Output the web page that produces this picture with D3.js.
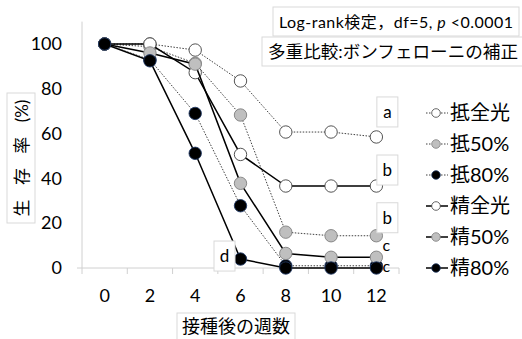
<!DOCTYPE html>
<html>
<head>
<meta charset="utf-8">
<script src="https://cdn.jsdelivr.net/npm/d3@7"></script>
<style>
  html, body { margin: 0; padding: 0; background: #fff; }
  svg { display: block; font-family: Lato, "Noto Sans CJK JP", sans-serif; }
</style>
</head>
<body>
<svg id="chart" width="522" height="339"></svg>
<script>
// Weeks after inoculation (category axis)
const weeks = ["0", "2", "4", "6", "8", "10", "12"];
const yTicks = [0, 20, 40, 60, 80, 100];

// Survival rate (%) per line
const seriesNames = ["抵全光", "抵50%", "抵80%", "精全光", "精50%", "精80%"];
const teiZenko = [100, 100, 97.3, 83.5, 60.7, 60.7, 58.5];
const tei50    = [100, 98.8, 91.4, 68.3, 16, 14.4, 14.4];
const tei80    = [100, 93, 69, 27.8, 1, 1, 1];
const seiZenko = [100, 100, 87.2, 50.7, 36.6, 36.6, 36.6];
const sei50    = [100, 96, 91, 37.8, 6.5, 4.8, 4.8];
const sei80    = [100, 92.5, 51.2, 4, 0, 0, 0];

// Significance letters, each attached to a series (index) at a week
const sigLetters = ["a", "b", "b", "c", "c", "d"];
const sigSeries  = [0, 3, 1, 4, 5, 5];
const sigWeek    = ["12", "12", "12", "12", "12", "6"];

const titleLine1 = "Log-rank検定，df=5, ";
const titleP = "p";
const titleLine1b = " <0.0001";
const titleLine2 = "多重比較:ボンフェローニの補正";
const xTitle = "接種後の週数";
const yTitleMain = "生 存 率 ";
const yTitleUnit = "(%)";

const allValues = [teiZenko, tei50, tei80, seiZenko, sei50, sei80];

const svg = d3.select("#chart");

const x = d3.scaleBand().domain(weeks).range([82, 399]).padding(0);
const xc = d => x(d) + x.bandwidth() / 2;
const y = d3.scaleLinear().domain([0, 110]).range([268, 21.6]);

// Styles per series: 抵 = dotted lines, 精 = solid lines
const markerFill   = ["#ffffff", "#bfbfbf", "#000000", "#ffffff", "#bfbfbf", "#000000"];
const markerStroke = ["#404040", "#7f7f7f", "#1f3864", "#404040", "#7f7f7f", "#1f3864"];
const dotted = [true, true, true, false, false, false];

// Axes
svg.append("line").attr("x1", 82).attr("x2", 82).attr("y1", y(110)).attr("y2", y(0))
  .attr("stroke", "#d0d0d0").attr("stroke-width", 1);
svg.append("line").attr("x1", 77).attr("x2", 399).attr("y1", y(0)).attr("y2", y(0))
  .attr("stroke", "#d0d0d0").attr("stroke-width", 1);

// Tick marks at category boundaries
const bounds = weeks.map(w => x(w)).concat([x.range()[1]]);
svg.append("g").selectAll("line").data(bounds).join("line")
  .attr("x1", d => d).attr("x2", d => d)
  .attr("y1", y(0)).attr("y2", y(0) + 6)
  .attr("stroke", "#d0d0d0");

const xAxis = svg.append("g").attr("transform", `translate(0,${y(0)})`)
  .call(d3.axisBottom(x).tickSize(0).tickPadding(21));
xAxis.select(".domain").remove();
xAxis.selectAll("text").attr("font-size", 18).attr("fill", "#000")
  .attr("font-family", "Lato, sans-serif");

const yAxis = svg.append("g").attr("transform", "translate(82,0)")
  .call(d3.axisLeft(y).tickValues(yTicks).tickSize(0).tickPadding(20));
yAxis.select(".domain").remove();
yAxis.selectAll("text").attr("font-size", 18).attr("fill", "#000")
  .attr("font-family", "Lato, sans-serif");

// Lines and markers
const line = d3.line().x((d, i) => xc(weeks[i])).y(d => y(d));
allValues.forEach((vals, s) => {
  const g = svg.append("g");
  g.append("path").datum(vals).attr("d", line)
    .attr("fill", "none")
    .attr("stroke", dotted[s] ? "#404040" : "#000")
    .attr("stroke-width", dotted[s] ? 1 : 1.5)
    .attr("stroke-dasharray", dotted[s] ? "1.5,1.5" : null);
  g.selectAll("circle").data(vals).join("circle")
    .attr("cx", (d, i) => xc(weeks[i])).attr("cy", d => y(d)).attr("r", 6.2)
    .attr("fill", markerFill[s]).attr("stroke", markerStroke[s]).attr("stroke-width", 0.9);
});

// Significance letters
function sigPos(k) {
  const s = sigSeries[k], w = sigWeek[k];
  const v = allValues[s][weeks.indexOf(w)];
  const px = xc(w), py = y(v);
  switch (k) {
    case 0: return { x: px + 11, y: py - 25, box: true };
    case 1: return { x: px + 11, y: py - 16, box: true };
    case 2: return { x: px + 11, y: py - 18, box: true };
    case 3: return { x: px + 10, y: py - 12, box: false };
    case 4: return { x: px + 10, y: py - 2, box: false };
    default: return { x: px - 16, y: py - 3, box: true };
  }
}
sigLetters.forEach((t, k) => {
  const p = sigPos(k);
  if (p.box) {
    svg.append("rect").attr("x", p.x - 10.5).attr("y", p.y - 15).attr("width", 21).attr("height", 30)
      .attr("fill", "#fff").attr("stroke", "#d9d9d9").attr("stroke-width", 1);
  }
  svg.append("text").attr("x", p.x).attr("y", p.y).attr("dy", "0.35em")
    .attr("text-anchor", "middle").attr("font-size", p.box ? 17 : 16).attr("fill", "#000")
    .attr("font-family", "Lato, sans-serif").text(t);
});

// Legend
const legend = svg.append("g");
seriesNames.forEach((name, s) => {
  const ly = 113 + s * 31;
  legend.append("line").attr("x1", 426).attr("x2", 448).attr("y1", ly).attr("y2", ly)
    .attr("stroke", dotted[s] ? "#404040" : "#000")
    .attr("stroke-width", dotted[s] ? 1 : 1.5)
    .attr("stroke-dasharray", dotted[s] ? "1.5,1.5" : null);
  legend.append("circle").attr("cx", 436).attr("cy", ly).attr("r", 4.3)
    .attr("fill", markerFill[s]).attr("stroke", markerStroke[s]).attr("stroke-width", 0.8);
  legend.append("text").attr("x", 450).attr("y", ly).attr("dy", "0.36em")
    .attr("font-size", 20).attr("fill", "#000").text(name);
});

// Test annotation boxes
svg.append("rect").attr("x", 273).attr("y", 7).attr("width", 246).attr("height", 29)
  .attr("fill", "#fff").attr("stroke", "#d9d9d9");
const t1 = svg.append("text").attr("x", 279).attr("y", 22).attr("dy", "0.35em")
  .attr("font-size", 16).attr("fill", "#000")
  .attr("textLength", 234).attr("lengthAdjust", "spacing");
t1.append("tspan").text(titleLine1);
t1.append("tspan").attr("font-style", "italic").text(titleP);
t1.append("tspan").text(titleLine1b);

svg.append("rect").attr("x", 262).attr("y", 37).attr("width", 262).attr("height", 29)
  .attr("fill", "#fff").attr("stroke", "#d9d9d9");
svg.append("text").attr("x", 268).attr("y", 52).attr("dy", "0.35em")
  .attr("font-size", 17.5).attr("fill", "#000")
  .attr("textLength", 250).attr("lengthAdjust", "spacingAndGlyphs").text(titleLine2);

// Axis titles
svg.append("rect").attr("x", 177).attr("y", 313).attr("width", 118).attr("height", 30)
  .attr("fill", "#fff").attr("stroke", "#d9d9d9");
svg.append("text").attr("x", 236).attr("y", 327).attr("dy", "0.35em")
  .attr("text-anchor", "middle").attr("font-size", 18).attr("fill", "#000").text(xTitle);

svg.append("rect").attr("x", 7).attr("y", 93).attr("width", 28).attr("height", 130)
  .attr("fill", "#fff").attr("stroke", "#d9d9d9");
const yt = svg.append("text").attr("transform", "translate(22,158) rotate(-90)").attr("dy", "0.35em")
  .attr("text-anchor", "middle").attr("font-size", 17).attr("fill", "#000");
yt.append("tspan").attr("letter-spacing", 5).text(yTitleMain);
yt.append("tspan").text(yTitleUnit);
</script>
</body>
</html>
